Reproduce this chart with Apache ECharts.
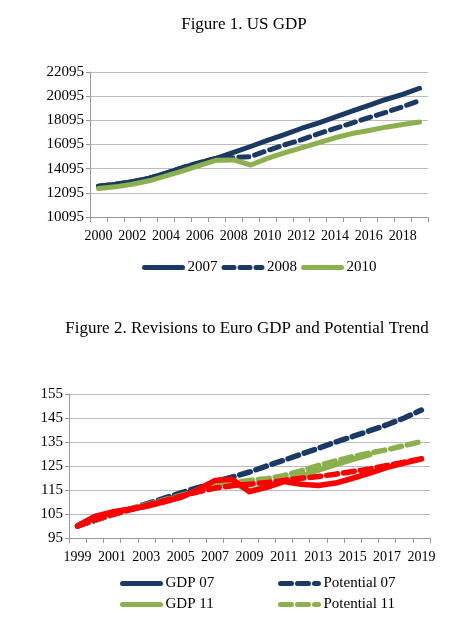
<!DOCTYPE html>
<html>
<head>
<meta charset="utf-8">
<style>
  html, body { margin: 0; padding: 0; background: #fff; }
  #main { width: 462px; height: 620px; }
</style>
<script src="https://cdn.jsdelivr.net/npm/echarts@6/dist/echarts.min.js"></script>
</head>
<body>
<div id="main"></div>
<script>
// Figure 1: US GDP vintages
var years1 = ['2000', '2001', '2002', '2003', '2004', '2005', '2006', '2007', '2008', '2009',
              '2010', '2011', '2012', '2013', '2014', '2015', '2016', '2017', '2018', '2019'];
var us2007 = [12650, 12800, 13010, 13310, 13720, 14190, 14600, 14960, 15450, 15930,
              16430, 16920, 17420, 17870, 18360, 18850, 19340, 19820, 20250, 20750];
var us2008 = [12650, 12800, 13010, 13310, 13720, 14190, 14600, 14960, 15000, 15100,
              15600, 16060, 16480, 16980, 17430, 17870, 18320, 18750, 19220, 19740];
var us2010 = [12450, 12590, 12810, 13090, 13500, 13920, 14360, 14800, 14820, 14400,
              14940, 15400, 15820, 16230, 16650, 17000, 17260, 17530, 17750, 17950];

// Figure 2: Euro GDP and potential, index 1999 = 100
var years2 = ['1999', '2000', '2001', '2002', '2003', '2004', '2005', '2006', '2007', '2008',
              '2009', '2010', '2011', '2012', '2013', '2014', '2015', '2016', '2017', '2018', '2019'];
var gdp07 = [100, 103.8, 105.6, 106.9, 108.4, 110.5, 112.6, 115.4, 118.6, 120.3,
             null, null, null, null, null, null, null, null, null, null, null];
var pot07 = [100, 102.3, 104.6, 106.9, 109.2, 111.5, 113.8, 116.0, 118.1, 120.4,
             122.5, 125.0, 127.4, 129.9, 132.4, 134.9, 137.3, 139.7, 142.2, 145.0, 148.3];
var gdp11 = [100, 103.9, 105.7, 107.0, 108.3, 110.2, 112.0, 115.0, 118.0, 118.2,
             114.6, 116.4, 118.9, 120.8, 123.3, 125.6, 127.8, 129.8, null, null, null];
var pot11 = [100, 102.4, 104.7, 106.9, 108.9, 110.8, 112.7, 114.6, 116.5, 118.0,
             119.0, 119.7, 121.0, 123.0, 125.2, 127.1, 128.9, 130.4, 131.8, 133.5, 135.2];
var gdp13 = [100, 104.0, 105.8, 107.0, 108.2, 110.0, 111.9, 115.1, 119.0, 119.5,
             114.3, 116.1, 118.5, 117.4, 116.9, 117.9, 119.9, 122.0, 124.4, 126.2, 128.0];
var pot13 = [100, 102.5, 104.8, 106.6, 108.6, 110.5, 112.4, 114.2, 115.8, 116.8,
             117.4, 118.1, 119.0, 119.9, 120.6, 121.6, 122.7, 123.8, 125.2, 126.6, 128.0];

var navy = '#1b3a63';
var green = '#8db04f';
var red = '#ff0000';
var serif = 'Liberation Serif';
var gridGrey = '#bdbdbd';
var axisGrey = '#9a9a9a';

function catAxis(gridIndex, data) {
    return {
        type: 'category',
        gridIndex: gridIndex,
        data: data,
        boundaryGap: true,
        axisLine: { lineStyle: { color: axisGrey, width: 1 } },
        axisTick: { show: true, interval: 0, length: 5, lineStyle: { color: axisGrey } },
        axisLabel: { interval: 1, margin: 12, color: '#000', fontFamily: serif, fontSize: 14 },
        splitLine: { show: false }
    };
}

function valAxis(gridIndex, min, max, step) {
    return {
        type: 'value',
        gridIndex: gridIndex,
        min: min,
        max: max,
        interval: step,
        axisLine: { show: true, lineStyle: { color: axisGrey, width: 1 } },
        axisTick: { show: true, length: 4, lineStyle: { color: axisGrey } },
        axisLabel: {
            margin: 6, color: '#000', fontFamily: serif, fontSize: 15,
            formatter: function (v) { return String(v); }
        },
        splitLine: { show: true, lineStyle: { color: gridGrey, width: 1.2 } }
    };
}

function lineSeries(name, axisIdx, data, color, width, dash) {
    return {
        name: name,
        type: 'line',
        xAxisIndex: axisIdx,
        yAxisIndex: axisIdx,
        data: data,
        symbol: 'none',
        showSymbol: false,
        smooth: false,
        connectNulls: false,
        lineStyle: { color: color, width: width, type: dash || 'solid', cap: 'round', join: 'round' },
        itemStyle: { color: color },
        emphasis: { disabled: true }
    };
}

// one legend block per item, placed like the original
function legendAt(names, left, top) {
    return {
        data: names,
        left: left, top: top,
        itemWidth: 38, itemHeight: 14, itemGap: 4,
        itemStyle: { opacity: 0, borderWidth: 0 },
        lineStyle: { width: 5 },
        textStyle: { fontFamily: serif, fontSize: 15, color: '#000' }
    };
}

var chart = echarts.init(document.getElementById('main'));
var option = {
    backgroundColor: '#fff',
    animation: false,
    title: [
        {
            text: 'Figure 1. US GDP',
            left: 239, top: 11, textAlign: 'center',
            textStyle: { fontFamily: serif, fontSize: 17, fontWeight: 'normal', color: '#000' }
        },
        {
            text: 'Figure 2. Revisions to Euro GDP and Potential Trend',
            left: 242, top: 315, textAlign: 'center',
            textStyle: { fontFamily: serif, fontSize: 17, fontWeight: 'normal', color: '#000' }
        }
    ],
    grid: [
        { left: 90, top: 72, width: 338, height: 145 },
        { left: 69, top: 394, width: 361, height: 144 }
    ],
    legend: [
        legendAt(['2007', '2008', '2010'], 137, 255),
        legendAt(['GDP 07'], 115, 571),
        legendAt(['GDP 11'], 115, 592),
        legendAt(['Potential 07'], 273, 571),
        legendAt(['Potential 11'], 273, 592)
    ],
    xAxis: [catAxis(0, years1), catAxis(1, years2)],
    yAxis: [valAxis(0, 10095, 22095, 2000), valAxis(1, 95, 155, 10)],
    series: [
        lineSeries('2007', 0, us2007, navy, 5),
        lineSeries('2008', 0, us2008, navy, 5, [10, 6]),
        lineSeries('2010', 0, us2010, green, 5),
        lineSeries('GDP 07', 1, gdp07, navy, 5.5),
        lineSeries('Potential 07', 1, pot07, navy, 5.5, [11, 6]),
        lineSeries('GDP 11', 1, gdp11, green, 5.5),
        lineSeries('Potential 11', 1, pot11, green, 5.5, [11, 6]),
        lineSeries('GDP 13', 1, gdp13, red, 5.5),
        lineSeries('Potential 13', 1, pot13, red, 5.5, [11, 6])
    ]
};
chart.setOption(option);
</script>
</body>
</html>
